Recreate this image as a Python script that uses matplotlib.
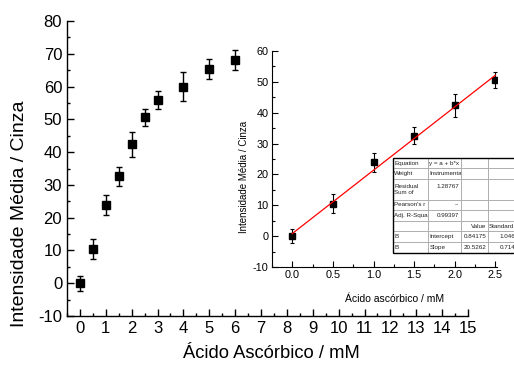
import matplotlib
matplotlib.use('Agg')
import matplotlib.pyplot as plt
from matplotlib import font_manager
from matplotlib.ticker import MultipleLocator
from matplotlib.patches import Rectangle
import numpy as np

# ---- data ----
conc = [0, 0.5, 1, 1.5, 2, 2.5, 3, 4, 5, 6]
intensity = [0, 10.5, 23.9, 32.6, 42.4, 50.7, 55.9, 60.0, 65.3, 68.2]
err = [2.3, 3.0, 3.0, 2.8, 3.8, 2.6, 2.8, 4.5, 3.0, 3.0]
n_linear = 6
fit_intercept = 0.84175
fit_slope = 20.5262

main_xticks = list(range(0, 16))
main_yticks = list(range(-10, 81, 10))
inset_xticks = [0.0, 0.5, 1.0, 1.5, 2.0, 2.5]
inset_yticks = list(range(-10, 61, 10))

table_text = [
    ["Equation", "y = a + b*x", "", ""],
    ["Weight", "Instrumenta", "", ""],
    ["Residual\nSum of", "1.28767\n ", "", ""],
    ["Pearson's r", "--", "", ""],
    ["Adj. R-Squar", "0.99397", "", ""],
    ["", "", "Value", "Standard"],
    ["B", "Intercept", "0.84175", "1.046"],
    ["B", "Slope", "20.5262", "0.714"],
]
table_align = [
    ["left", "left", "left", "left"],
    ["left", "left", "left", "left"],
    ["left", "right", "left", "left"],
    ["left", "right", "left", "left"],
    ["left", "right", "left", "left"],
    ["left", "left", "right", "left"],
    ["left", "left", "right", "right"],
    ["left", "left", "right", "right"],
]

plt.rcParams['font.family'] = ['Liberation Sans', 'DejaVu Sans']
plt.rcParams['axes.unicode_minus'] = False

W, H = 514, 368
fig = plt.figure(figsize=(W / 100, H / 100), dpi=100)


def px_axes(l, t, r, b):
    return [l / W, (H - b) / H, (r - l) / W, (b - t) / H]


# ---- main axes ----
ax = fig.add_axes(px_axes(67, 21, 468, 316))
ax.errorbar(conc, intensity, yerr=err, fmt='s', color='black', ms=6,
            capsize=2.5, elinewidth=1, capthick=1)
ax.set_xlim(-0.5, 15)
ax.set_ylim(-10, 80)
ax.set_xticks(main_xticks)
ax.set_yticks(main_yticks)
ax.xaxis.set_minor_locator(MultipleLocator(0.5))
ax.yaxis.set_minor_locator(MultipleLocator(5))
for s in ['top', 'right']:
    ax.spines[s].set_visible(False)
for s in ['left', 'bottom']:
    ax.spines[s].set_linewidth(1.0)
ax.tick_params(which='both', direction='in', labelsize=12, width=1)
ax.tick_params(which='major', length=5)
ax.tick_params(which='minor', length=2.5)
ax.set_xlabel('Ácido Ascórbico / mM', fontsize=13.2)
ax.set_ylabel('Intensidade Média / Cinza', fontsize=14)
ax.xaxis.set_label_coords(0.51, -0.10)
ax.yaxis.set_label_coords(-0.098, 0.346)

# ---- inset ----
ins = fig.add_axes(px_axes(272, 51, 497, 267))
ins.errorbar(conc[:n_linear], intensity[:n_linear], yerr=err[:n_linear], fmt='s',
             color='black', ms=4.3, capsize=1.5, elinewidth=0.8, capthick=0.8,
             zorder=3)
xf = np.array([conc[0], conc[n_linear - 1]])
ins.plot(xf, fit_intercept + fit_slope * xf, color='red', lw=0.9, zorder=4)
ins.set_xlim(-0.25, 2.52)
ins.set_ylim(-10, 60)
ins.set_xticks(inset_xticks)
ins.set_xticklabels([f'{v:.1f}' for v in inset_xticks])
ins.set_yticks(inset_yticks)
ins.xaxis.set_minor_locator(MultipleLocator(0.25))
ins.yaxis.set_minor_locator(MultipleLocator(5))
for s in ['top', 'right']:
    ins.spines[s].set_visible(False)
ins.tick_params(which='both', direction='in', labelsize=7.8, width=0.8, pad=2.5)
ins.tick_params(which='major', length=4)
ins.tick_params(which='minor', length=2)
ins.set_xlabel('Ácido ascórbico / mM', fontsize=7.5)
ins.set_ylabel('Intensidade Média / Cinza', fontsize=7)
ins.xaxis.set_label_coords(0.545, -0.125)
ins.yaxis.set_label_coords(-0.103, 0.417)
ins.patch.set_alpha(0)

# ---- fit table ----
col_px = [35, 33.3, 26.7, 29]
row_px = [9.7, 11, 21, 10, 11, 10, 11, 11.3]
tl, tt = 392.7, 158.3
tr = tl + sum(col_px)
tb = tt + sum(row_px)
tax = fig.add_axes(px_axes(tl, tt, tr, tb))
tax.axis('off')
tax.set_zorder(5)
tbl = tax.table(cellText=table_text, colWidths=[c / sum(col_px) for c in col_px],
                bbox=[0, 0, 1, 1], cellLoc='left')
tbl.auto_set_font_size(False)
for (r, c), cell in tbl.get_celld().items():
    cell.set_height(row_px[r] / sum(row_px))
    cell.set_edgecolor('#a8a8a8')
    cell.set_linewidth(0.6)
    cell.PAD = 0.05
    cell._loc = table_align[r][c]
    cell.set_text_props(fontsize=4.5, color='#222222', ha=table_align[r][c])
tax.add_patch(Rectangle((0, 0), 1, 1, transform=tax.transAxes, fill=False,
                        edgecolor='black', lw=1.0, clip_on=False, zorder=10))

fig.savefig('out.png', dpi=100)
